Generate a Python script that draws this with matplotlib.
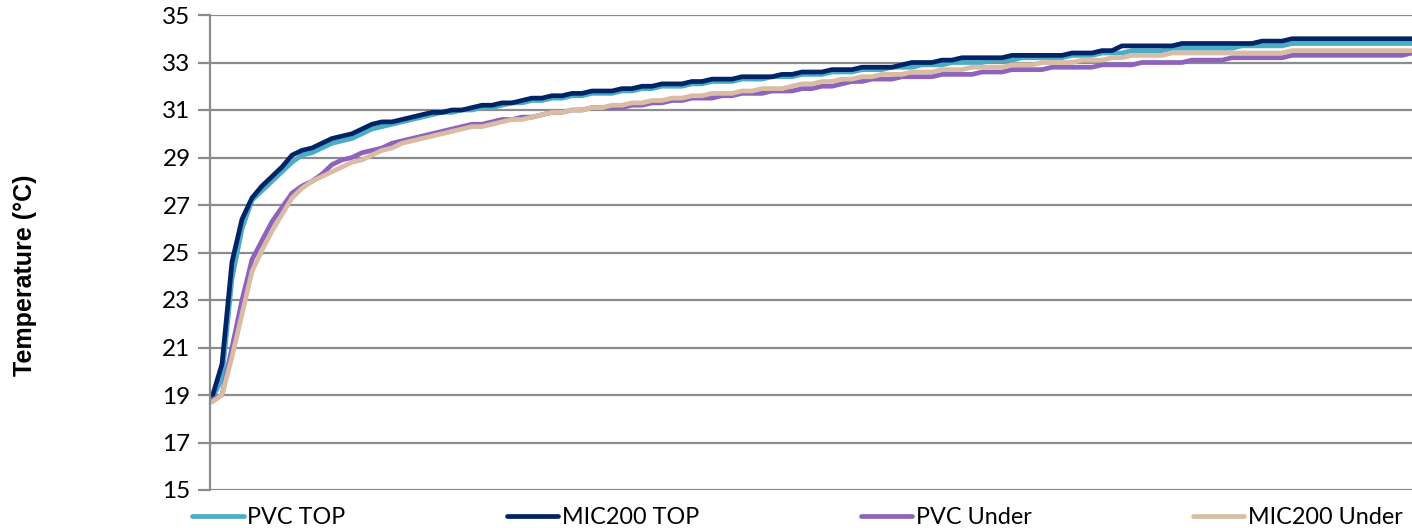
import matplotlib.pyplot as plt
import numpy as np

# temperature readings (deg C), one sample per step
pvc_top = [
    18.8, 19.7, 23.9, 26.0, 27.2, 27.6, 28.0, 28.4, 28.8, 29.1,
    29.2, 29.4, 29.6, 29.7, 29.8, 30.0, 30.2, 30.3, 30.4, 30.5,
    30.6, 30.7, 30.8, 30.9, 30.9, 31.0, 31.0, 31.1, 31.1, 31.2,
    31.3, 31.3, 31.4, 31.4, 31.5, 31.5, 31.6, 31.6, 31.7, 31.7,
    31.7, 31.8, 31.8, 31.9, 31.9, 32.0, 32.0, 32.0, 32.1, 32.1,
    32.2, 32.2, 32.2, 32.3, 32.3, 32.3, 32.4, 32.4, 32.4, 32.5,
    32.5, 32.5, 32.6, 32.6, 32.6, 32.7, 32.7, 32.7, 32.8, 32.8,
    32.8, 32.9, 32.9, 32.9, 33.0, 33.0, 33.0, 33.0, 33.1, 33.1,
    33.1, 33.2, 33.2, 33.2, 33.2, 33.2, 33.3, 33.3, 33.3, 33.4,
    33.4, 33.4, 33.5, 33.5, 33.5, 33.5, 33.6, 33.6, 33.6, 33.6,
    33.6, 33.6, 33.6, 33.7, 33.7, 33.7, 33.7, 33.7, 33.8, 33.8,
    33.8, 33.8, 33.8, 33.8, 33.8, 33.8, 33.8, 33.8, 33.8, 33.8,
    33.8,
]
mic200_top = [
    18.9, 20.3, 24.6, 26.4, 27.3, 27.8, 28.2, 28.6, 29.1, 29.3,
    29.4, 29.6, 29.8, 29.9, 30.0, 30.2, 30.4, 30.5, 30.5, 30.6,
    30.7, 30.8, 30.9, 30.9, 31.0, 31.0, 31.1, 31.2, 31.2, 31.3,
    31.3, 31.4, 31.5, 31.5, 31.6, 31.6, 31.7, 31.7, 31.8, 31.8,
    31.8, 31.9, 31.9, 32.0, 32.0, 32.1, 32.1, 32.1, 32.2, 32.2,
    32.3, 32.3, 32.3, 32.4, 32.4, 32.4, 32.4, 32.5, 32.5, 32.6,
    32.6, 32.6, 32.7, 32.7, 32.7, 32.8, 32.8, 32.8, 32.8, 32.9,
    33.0, 33.0, 33.0, 33.1, 33.1, 33.2, 33.2, 33.2, 33.2, 33.2,
    33.3, 33.3, 33.3, 33.3, 33.3, 33.3, 33.4, 33.4, 33.4, 33.5,
    33.5, 33.7, 33.7, 33.7, 33.7, 33.7, 33.7, 33.8, 33.8, 33.8,
    33.8, 33.8, 33.8, 33.8, 33.8, 33.9, 33.9, 33.9, 34.0, 34.0,
    34.0, 34.0, 34.0, 34.0, 34.0, 34.0, 34.0, 34.0, 34.0, 34.0,
    34.0,
]
pvc_under = [
    18.8, 19.0, 21.0, 23.0, 24.7, 25.5, 26.3, 26.9, 27.5, 27.8,
    28.0, 28.3, 28.7, 28.9, 29.0, 29.2, 29.3, 29.4, 29.6, 29.7,
    29.8, 29.9, 30.0, 30.1, 30.2, 30.3, 30.4, 30.4, 30.5, 30.6,
    30.6, 30.7, 30.7, 30.8, 30.9, 30.9, 31.0, 31.0, 31.1, 31.1,
    31.1, 31.1, 31.2, 31.2, 31.3, 31.3, 31.4, 31.4, 31.5, 31.5,
    31.5, 31.6, 31.6, 31.7, 31.7, 31.7, 31.8, 31.8, 31.8, 31.9,
    31.9, 32.0, 32.0, 32.1, 32.2, 32.2, 32.3, 32.3, 32.3, 32.4,
    32.4, 32.4, 32.4, 32.5, 32.5, 32.5, 32.5, 32.6, 32.6, 32.6,
    32.7, 32.7, 32.7, 32.7, 32.8, 32.8, 32.8, 32.8, 32.8, 32.9,
    32.9, 32.9, 32.9, 33.0, 33.0, 33.0, 33.0, 33.0, 33.1, 33.1,
    33.1, 33.1, 33.2, 33.2, 33.2, 33.2, 33.2, 33.2, 33.3, 33.3,
    33.3, 33.3, 33.3, 33.3, 33.3, 33.3, 33.3, 33.3, 33.3, 33.3,
    33.4,
]
mic200_under = [
    18.7, 19.0, 20.6, 22.4, 24.2, 25.1, 25.9, 26.6, 27.3, 27.7,
    28.0, 28.2, 28.4, 28.6, 28.8, 28.9, 29.1, 29.3, 29.4, 29.6,
    29.7, 29.8, 29.9, 30.0, 30.1, 30.2, 30.3, 30.3, 30.4, 30.5,
    30.6, 30.6, 30.7, 30.8, 30.9, 30.9, 31.0, 31.0, 31.1, 31.1,
    31.2, 31.2, 31.3, 31.3, 31.4, 31.4, 31.5, 31.5, 31.6, 31.6,
    31.7, 31.7, 31.7, 31.8, 31.8, 31.9, 31.9, 31.9, 32.0, 32.1,
    32.1, 32.2, 32.2, 32.3, 32.3, 32.4, 32.4, 32.5, 32.5, 32.5,
    32.6, 32.6, 32.6, 32.7, 32.7, 32.7, 32.8, 32.8, 32.8, 32.8,
    32.9, 32.9, 32.9, 33.0, 33.0, 33.0, 33.0, 33.1, 33.1, 33.1,
    33.2, 33.2, 33.3, 33.3, 33.3, 33.3, 33.4, 33.4, 33.4, 33.4,
    33.4, 33.4, 33.4, 33.4, 33.4, 33.4, 33.4, 33.4, 33.5, 33.5,
    33.5, 33.5, 33.5, 33.5, 33.5, 33.5, 33.5, 33.5, 33.5, 33.5,
    33.5,
]

series = [
    ("PVC TOP", pvc_top, "#4BACC6"),
    ("MIC200 TOP", mic200_top, "#002466"),
    ("PVC Under", pvc_under, "#8E63BE"),
    ("MIC200 Under", mic200_under, "#D9BCA3"),
]

plt.rcParams['font.family'] = ['Lato', 'DejaVu Sans']

fig = plt.figure(figsize=(14.12, 5.28), dpi=100)
ax = fig.add_axes([210 / 1412, 1 - 490 / 528, 1 - 210 / 1412, 475 / 528])

x = np.arange(len(pvc_top))
for name, vals, col in series:
    ax.plot(x, vals, color=col, lw=3.4, label=name, solid_capstyle='round')

ax.set_ylim(15, 35)
ax.set_yticks(np.arange(15, 36, 2))
ax.set_xlim(-0.2, len(pvc_top) - 1)
ax.set_xticks([])

grid_col = "#8C8C8C"
ax.grid(axis='y', color=grid_col, lw=1.6)
ax.set_axisbelow(True)
for s in ['top', 'right', 'bottom']:
    ax.spines[s].set_visible(False)
ax.spines['left'].set_color(grid_col)
ax.spines['left'].set_linewidth(1.6)
ax.tick_params(axis='y', length=9, width=1.6, color=grid_col, labelsize=17.5, pad=5)

fig.text(25 / 1412, 0.478, "Temperature (°C)", rotation=90, va='center', ha='center',
         fontsize=18, fontweight='bold', family=['Liberation Sans', 'DejaVu Sans'])

fig.legend(loc='lower left', bbox_to_anchor=(183 / 1412, -0.018, 1 - 183 / 1412, 0.05),
           ncol=4, mode='expand', frameon=False, fontsize=16.8, handlelength=2.2,
           handletextpad=0.15, borderaxespad=0)

fig.savefig("out.png", dpi=100)
